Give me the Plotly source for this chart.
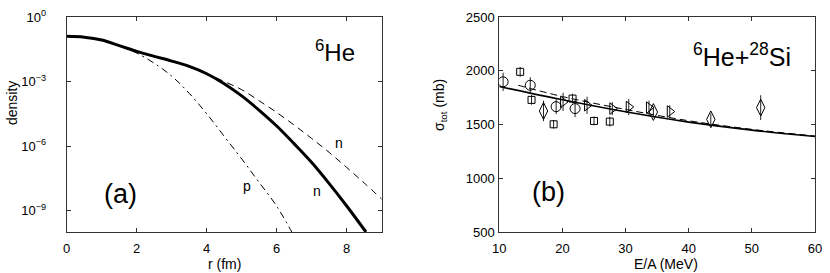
import plotly.graph_objects as go

# ---- panel (a): densities of 6He (log10 of density) ----
r_n = [0, 0.5, 1.0, 1.5, 2.0, 2.5, 3.0, 3.5, 4.0, 4.5, 5.0, 5.5, 6.0, 6.5, 7.0, 7.5, 8.0, 8.55]
log_n = [-0.90, -0.94, -1.07, -1.33, -1.60, -1.83, -2.05, -2.30, -2.64, -3.10, -3.67, -4.34, -5.07, -5.90, -6.77, -7.75, -8.79, -10.0]

r_nd = [0, 0.5, 1.0, 1.5, 2.0, 2.5, 3.0, 3.5, 4.0, 4.5, 5.0, 5.5, 6.0, 6.5, 7.0, 7.5, 8.0, 8.5, 9.0]
log_nd = [-0.90, -0.94, -1.07, -1.33, -1.60, -1.83, -2.05, -2.30, -2.64, -3.00, -3.38, -3.90, -4.44, -5.03, -5.65, -6.30, -7.00, -7.72, -8.47]

r_p = [0, 0.5, 1.0, 1.5, 2.0, 2.5, 3.0, 3.5, 4.0, 4.5, 5.0, 5.5, 6.0, 6.43]
log_p = [-0.90, -0.94, -1.07, -1.34, -1.68, -2.15, -2.75, -3.55, -4.50, -5.55, -6.60, -7.70, -8.80, -10.0]

dens_n = [10 ** v for v in log_n]
dens_nd = [10 ** v for v in log_nd]
dens_p = [10 ** v for v in log_p]

a_xticks = [0, 2, 4, 6, 8]
a_yticks = [1, 1e-3, 1e-6, 1e-9]
a_yticktext = ["10<sup>0</sup>", "10<sup>−3</sup>", "10<sup>−6</sup>", "10<sup>−9</sup>"]

# ---- panel (b): 6He + 28Si total cross section ----
E_circ = [10.6, 14.9, 19.0, 22.0]
s_circ = [1897, 1865, 1666, 1648]
e_circ = [85, 75, 70, 80]

E_sq = [13.3, 15.1, 18.6, 21.6, 25.0, 27.5]
s_sq = [1990, 1729, 1502, 1741, 1533, 1527]
e_sq = [45, 45, 40, 45, 40, 45]

E_dia = [17.0, 34.4, 43.5, 51.4]
s_dia = [1626, 1616, 1548, 1657]
e_dia = [95, 50, 55, 115]

E_tri = [20.1, 23.9, 27.9, 30.5, 33.7, 37.0]
s_tri = [1710, 1679, 1648, 1663, 1657, 1621]
e_tri = [85, 80, 60, 75, 65, 58]

E_line = [10, 20, 30, 40, 50, 60]
s_solid = [1853, 1730, 1618, 1522, 1448, 1388]
E_dash = [13, 20, 30, 40, 50, 60]
s_dash = [1865, 1760, 1640, 1535, 1455, 1393]

b_xticks = [10, 20, 30, 40, 50, 60]
b_yticks = [500, 1000, 1500, 2000, 2500]

FONT = "Liberation Sans, Arial, Helvetica, sans-serif"
K = "black"

fig = go.Figure()

fig.add_trace(go.Scatter(x=r_nd, y=dens_nd, mode="lines", line=dict(color=K, width=1, dash="7px,5px", shape="spline"),
                         xaxis="x", yaxis="y", showlegend=False))
fig.add_trace(go.Scatter(x=r_p, y=dens_p, mode="lines", line=dict(color=K, width=1, dash="7px,4px,2px,4px", shape="spline"),
                         xaxis="x", yaxis="y", showlegend=False))
fig.add_trace(go.Scatter(x=r_n, y=dens_n, mode="lines", line=dict(color=K, width=3, shape="spline"),
                         xaxis="x", yaxis="y", showlegend=False))

fig.add_trace(go.Scatter(x=E_line, y=s_solid, mode="lines", line=dict(color=K, width=1.6, shape="spline"),
                         xaxis="x2", yaxis="y2", showlegend=False))
fig.add_trace(go.Scatter(x=E_dash, y=s_dash, mode="lines", line=dict(color=K, width=1, dash="7px,4px", shape="spline"),
                         xaxis="x2", yaxis="y2", showlegend=False))

def pts(x, y, e, sym, size):
    fig.add_trace(go.Scatter(
        x=x, y=y, mode="markers", xaxis="x2", yaxis="y2", showlegend=False,
        marker=dict(symbol=sym, size=size, color=K, line=dict(color=K, width=1)),
        error_y=dict(type="data", array=e, visible=True, width=0, thickness=1, color="#222"),
    ))

pts(E_circ, s_circ, e_circ, "circle-open", 10)
pts(E_sq, s_sq, e_sq, "square-open", 7)
pts(E_dia, s_dia, e_dia, "diamond-tall-open", 12)
pts(E_tri, s_tri, e_tri, "triangle-right-open", 10)

axis_common = dict(showline=True, linecolor="#333", linewidth=1, mirror="ticks", ticks="inside",
                   ticklen=4, tickcolor="#333", showgrid=False, zeroline=False, automargin=False,
                   tickfont=dict(family=FONT, size=13, color=K))

fig.update_layout(
    width=830, height=273,
    margin=dict(l=0, r=0, t=17, b=41),
    paper_bgcolor="white", plot_bgcolor="white",
    font=dict(family=FONT, color=K),
    xaxis=dict(domain=[0.0804, 0.4599], range=[0, 9], tickvals=a_xticks, anchor="y",
               ticklabelstandoff=4, **axis_common),
    yaxis=dict(domain=[0, 1], type="log", range=[-10, 0], tickvals=a_yticks, ticktext=a_yticktext,
               anchor="x", ticklabelstandoff=17, **axis_common),
    xaxis2=dict(domain=[0.6016, 0.9819], range=[10, 60], tickvals=b_xticks, anchor="y2",
                ticklabelstandoff=4, **axis_common),
    yaxis2=dict(domain=[0, 1], range=[500, 2500], tickvals=b_yticks, anchor="x2",
                ticklabelstandoff=1, **axis_common),
)

ann = [
    dict(text="density", x=12, y=103, rot=-90, size=14),
    dict(text="r (fm)", x=224, y=264, rot=0, size=14),
    dict(text="σ<sub>tot</sub> (mb)", x=440, y=105, rot=-90, size=14),
    dict(text="E/A (MeV)", x=666, y=264, rot=0, size=14),
    dict(text="(a)", x=120, y=194, rot=0, size=27),
    dict(text="(b)", x=548, y=192, rot=0, size=27),
    dict(text="<sup>6</sup>He", x=335, y=51, rot=0, size=24),
    dict(text="<sup>6</sup>He+<sup>28</sup>Si", x=742, y=55, rot=0, size=25),
]
for a in ann:
    fig.add_annotation(text=a["text"], xref="paper", yref="paper",
                       x=a["x"] / 830, y=(232 - a["y"]) / 215,
                       xanchor="center", yanchor="middle", textangle=a["rot"],
                       showarrow=False, font=dict(family=FONT, size=a["size"], color=K))

# curve labels in data coordinates of panel (a)
fig.add_annotation(text="n", x=7.79, y=-5.87, xref="x", yref="y", showarrow=False,
                   font=dict(family=FONT, size=14, color=K))
fig.add_annotation(text="n", x=7.14, y=-8.09, xref="x", yref="y", showarrow=False,
                   font=dict(family=FONT, size=14, color=K))
fig.add_annotation(text="p", x=5.14, y=-7.86, xref="x", yref="y", showarrow=False,
                   font=dict(family=FONT, size=14, color=K))

fig.write_html("out.html", config={"displayModeBar": False},
               post_script="document.body.style.margin='0';document.body.style.overflow='hidden';")
